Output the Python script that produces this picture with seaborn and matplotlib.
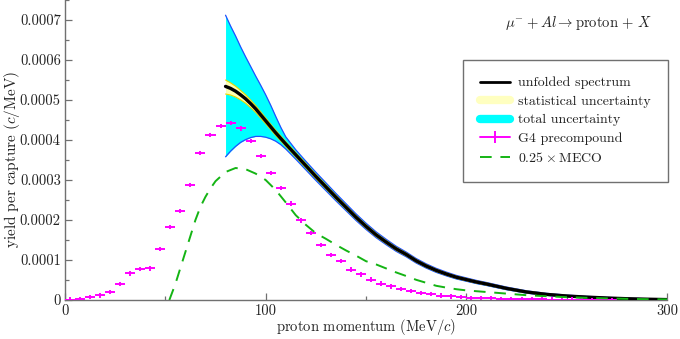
import numpy as np
import pandas as pd
import matplotlib
matplotlib.use("Agg")
import matplotlib.pyplot as plt
from matplotlib.lines import Line2D
from matplotlib.ticker import FixedLocator, FixedFormatter, MultipleLocator
import seaborn as sns

# ---------------- data ----------------
x_unf = [80, 82.5, 85, 87.5, 90, 92.5, 95, 97.5, 100, 102.5, 105, 107.5, 110,
         115, 120, 125, 130, 135, 140, 145, 150, 155, 160, 165, 170, 175, 180,
         185, 190, 195, 200, 205, 210, 220, 230, 240, 250, 260, 270, 280, 290, 300]
y_unf = [534e-6, 529e-6, 522e-6, 513e-6, 503e-6, 491e-6, 478e-6, 463e-6, 448e-6,
         433e-6, 418e-6, 404e-6, 390e-6,
         363e-6, 336e-6, 309e-6, 283e-6, 257e-6, 232e-6, 207e-6, 184e-6, 163e-6,
         145e-6, 128e-6, 114e-6, 98e-6, 85e-6, 74e-6, 65e-6, 57e-6, 51e-6, 45e-6,
         40e-6, 29e-6, 20e-6, 14e-6, 10e-6, 7.2e-6, 5e-6, 3.2e-6, 2e-6, 1e-6]
tot_err_up = [178e-6, 156e-6, 138e-6, 120e-6, 105e-6, 93e-6, 82e-6, 74e-6, 65e-6,
              54e-6, 41e-6, 28e-6, 18e-6,
              12.5e-6, 11e-6, 10.5e-6, 10e-6, 9.5e-6, 9e-6, 8.5e-6, 8e-6, 7.5e-6,
              7e-6, 6.5e-6, 6e-6, 5.7e-6, 5.4e-6, 5.1e-6, 4.8e-6, 4.5e-6, 4.2e-6,
              4e-6, 3.8e-6, 3.4e-6, 3e-6, 2.6e-6, 2.2e-6, 1.9e-6, 1.6e-6, 1.3e-6,
              1.1e-6, 0.9e-6]
tot_err_dn = [176e-6, 157e-6, 138e-6, 119e-6, 102e-6, 85e-6, 69e-6, 54e-6, 41e-6,
              30e-6, 21e-6, 15.5e-6, 12.5e-6,
              11e-6, 10.5e-6, 10e-6, 9.5e-6, 9e-6, 8.5e-6, 8e-6, 7.5e-6, 7e-6,
              6.6e-6, 6.2e-6, 5.8e-6, 5.5e-6, 5.2e-6, 4.9e-6, 4.6e-6, 4.3e-6, 4e-6,
              3.8e-6, 3.6e-6, 3.2e-6, 2.8e-6, 2.4e-6, 2.1e-6, 1.8e-6, 1.5e-6, 1.2e-6,
              1e-6, 0.8e-6]
stat_err_up = [16e-6, 14e-6, 12.5e-6, 11e-6, 10e-6, 9e-6, 8.2e-6, 7.6e-6, 7e-6,
               6.6e-6, 6.3e-6, 6e-6, 5.8e-6,
               5.6e-6, 5.4e-6, 5.2e-6, 5e-6, 4.8e-6, 4.6e-6, 4.4e-6, 4.2e-6, 4e-6,
               3.8e-6, 3.6e-6, 3.4e-6, 3.2e-6, 3e-6, 2.9e-6, 2.8e-6, 2.7e-6, 2.6e-6,
               2.5e-6, 2.4e-6, 2.2e-6, 2e-6, 1.8e-6, 1.6e-6, 1.4e-6, 1.2e-6, 1e-6,
               0.9e-6, 0.8e-6]
stat_err_dn = [19e-6, 16.5e-6, 14.5e-6, 12.5e-6, 11e-6, 10e-6, 9e-6, 8.2e-6, 7.5e-6,
               7e-6, 6.6e-6, 6.2e-6, 5.9e-6,
               5.6e-6, 5.4e-6, 5.2e-6, 5e-6, 4.8e-6, 4.6e-6, 4.4e-6, 4.2e-6, 4e-6,
               3.8e-6, 3.6e-6, 3.4e-6, 3.2e-6, 3e-6, 2.9e-6, 2.8e-6, 2.7e-6, 2.6e-6,
               2.5e-6, 2.4e-6, 2.2e-6, 2e-6, 1.8e-6, 1.6e-6, 1.4e-6, 1.2e-6, 1e-6,
               0.9e-6, 0.8e-6]

g4_x = [2.5, 7.5, 12.5, 17.5, 22.5, 27.5, 32.5, 37.5, 42.5, 47.5, 52.5, 57.5,
        62.5, 67.5, 72.5, 77.5, 82.5, 87.5, 92.5, 97.5, 102.5, 107.5, 112.5,
        117.5, 122.5, 127.5, 132.5, 137.5, 142.5, 147.5, 152.5, 157.5, 162.5,
        167.5, 172.5, 177.5, 182.5, 187.5, 192.5, 197.5, 202.5, 207.5, 212.5,
        217.5, 222.5, 227.5, 232.5, 237.5, 242.5, 247.5, 252.5, 257.5, 262.5,
        267.5, 272.5]
g4_y = [1e-6, 3e-6, 7.5e-6, 11.5e-6, 20e-6, 39.5e-6, 66.5e-6, 77e-6, 79e-6,
        128e-6, 182e-6, 223e-6, 287e-6, 368e-6, 412e-6, 435e-6, 442e-6, 429e-6,
        398e-6, 360e-6, 318e-6, 280e-6, 241e-6, 199e-6, 168e-6, 138e-6, 113e-6,
        97e-6, 76e-6, 64e-6, 51e-6, 41e-6, 34e-6, 27.5e-6, 23e-6, 17.5e-6,
        15e-6, 11e-6, 9e-6, 7e-6, 5.5e-6, 4.5e-6, 3.8e-6, 3e-6, 2.5e-6, 2e-6,
        1.7e-6, 1.4e-6, 1.2e-6, 1e-6, 0.8e-6, 0.6e-6, 0.5e-6, 0.4e-6, 0.3e-6]
g4_xerr = 2.5
g4_yerr = 5.5e-6

meco_x = [52, 55, 57.5, 60, 62.5, 65, 67.5, 70, 72.5, 75, 80, 85, 90, 95, 100,
          105, 110, 115, 120, 125, 130, 135, 140, 145, 150, 155, 160, 165, 170,
          175, 180, 185, 190, 195, 200, 205, 210, 220, 230, 240, 250, 260, 270,
          280, 290, 300]
meco_y = [0, 40e-6, 80e-6, 120e-6, 160e-6, 200e-6, 233e-6, 258e-6, 279e-6,
          297e-6, 320e-6, 330e-6, 327e-6, 316e-6, 300e-6, 275e-6, 244e-6,
          212e-6, 188e-6, 167e-6, 153e-6, 138e-6, 124e-6, 111e-6, 97e-6, 89e-6,
          79e-6, 69e-6, 60e-6, 50.5e-6, 43e-6, 35.5e-6, 31e-6, 27e-6, 24e-6,
          22e-6, 20e-6, 16e-6, 12e-6, 9.5e-6, 7e-6, 5.5e-6, 4e-6, 3e-6, 2e-6,
          1.5e-6]

y_ticks = [0, 0.0001, 0.0002, 0.0003, 0.0004, 0.0005, 0.0006, 0.0007]
y_tick_labels = ["0", "0.0001", "0.0002", "0.0003", "0.0004", "0.0005",
                 "0.0006", "0.0007"]
x_ticks = [0, 100, 200, 300]
x_tick_labels = ["0", "100", "200", "300"]

legend_labels = ["unfolded spectrum", "statistical uncertainty",
                 "total uncertainty", "G4 precompound", r"$0.25\times$MECO"]

# ---------------- style ----------------
sns.set_theme(style="ticks")
plt.rcParams["font.family"] = ["cmr10", "DejaVu Serif"]
plt.rcParams["mathtext.fontset"] = "cm"
plt.rcParams["axes.unicode_minus"] = False
plt.rcParams["axes.formatter.use_mathtext"] = True
plt.rcParams["font.size"] = 10

fig = plt.figure(figsize=(6.8, 3.39), dpi=100)
ax = fig.add_axes([65 / 680, 39 / 339, 602 / 680, 300 / 339])

unf = pd.DataFrame({"x": x_unf, "y": y_unf})
xu = np.array(x_unf)
yu = np.array(y_unf)
tot_lo = yu - np.array(tot_err_dn)
tot_hi = yu + np.array(tot_err_up)
st_lo = yu - np.array(stat_err_dn)
st_hi = yu + np.array(stat_err_up)

ax.fill_between(xu, tot_lo, tot_hi, color="#00ffff", lw=0, zorder=1)
ax.plot(xu, tot_hi, color="#2050ff", lw=0.9, zorder=1.5)
ax.plot(xu, tot_lo, color="#2050ff", lw=0.9, zorder=1.5)
ax.fill_between(xu, st_lo, st_hi, color="#ffffb4", lw=0, zorder=2)
ax.plot(xu, st_hi, color="#e8d800", lw=0.8, zorder=2.5)
ax.plot(xu, st_lo, color="#e8d800", lw=0.8, zorder=2.5)

sns.lineplot(data=unf, x="x", y="y", ax=ax, color="black", lw=2.4, zorder=3,
             legend=False)

ax.errorbar(g4_x, g4_y, xerr=g4_xerr, yerr=g4_yerr, fmt="none",
            ecolor="#ff00ff", elinewidth=1.4, capsize=0, zorder=4)

meco = pd.DataFrame({"x": meco_x, "y": meco_y})
sns.lineplot(data=meco, x="x", y="y", ax=ax, color="#14b414", lw=1.4,
             dashes=False, zorder=5, legend=False)
ax.lines[-1].set_dashes([6, 4.5])

ax.set_xlim(0, 300)
ax.set_ylim(0, 0.00075)
ax.xaxis.set_major_locator(FixedLocator(x_ticks))
ax.xaxis.set_major_formatter(FixedFormatter(x_tick_labels))
ax.xaxis.set_minor_locator(MultipleLocator(50))
ax.yaxis.set_major_locator(FixedLocator(y_ticks))
ax.yaxis.set_major_formatter(FixedFormatter(y_tick_labels))
ax.yaxis.set_minor_locator(MultipleLocator(0.00005))

spine_col = "#707070"
for s in ["top", "right"]:
    ax.spines[s].set_visible(False)
for s in ["left", "bottom"]:
    ax.spines[s].set_color(spine_col)
    ax.spines[s].set_linewidth(1.0)
ax.tick_params(which="major", direction="in", length=5, width=0.9,
               color=spine_col, labelsize=10.5, labelcolor="#222222", pad=3)
ax.tick_params(which="minor", direction="in", length=3, width=0.9,
               color=spine_col)

ax.set_xlabel(r"proton momentum (MeV/$c$)", fontsize=10.5, color="#222222")
ax.set_ylabel(r"yield per capture ($c$/MeV)", fontsize=11, color="#222222")
ax.xaxis.set_label_coords(0.5, -0.057)
ax.yaxis.set_label_coords(-0.072, 0.47)
ax.set_facecolor("white")

ax.text(0.975, 0.925, r"$\mu^{-} + Al \rightarrow \mathrm{proton} \,+\, X$",
        transform=ax.transAxes, ha="right", va="center", fontsize=10.5,
        color="#222222")

handles = [
    Line2D([], [], color="black", lw=2.0),
    Line2D([], [], color="#ffffc0", lw=6, solid_capstyle="round"),
    Line2D([], [], color="#00ffff", lw=6, solid_capstyle="round"),
    Line2D([], [], color="#ff00ff", lw=1.4, marker="|", markersize=8,
           markeredgewidth=1.4),
    Line2D([], [], color="#14b414", lw=1.4, dashes=[6, 4.5]),
]
leg = ax.legend(handles, legend_labels, loc="upper left",
                bbox_to_anchor=(0.661, 0.80), frameon=True, fancybox=False,
                framealpha=1, edgecolor="#707070", fontsize=10,
                handlelength=2.2, handletextpad=0.6, borderpad=1.2,
                labelspacing=0.42, borderaxespad=0)
leg.get_frame().set_linewidth(1.0)
for t in leg.get_texts():
    t.set_color("#222222")

fig.savefig("out.png", dpi=100, facecolor="white")
